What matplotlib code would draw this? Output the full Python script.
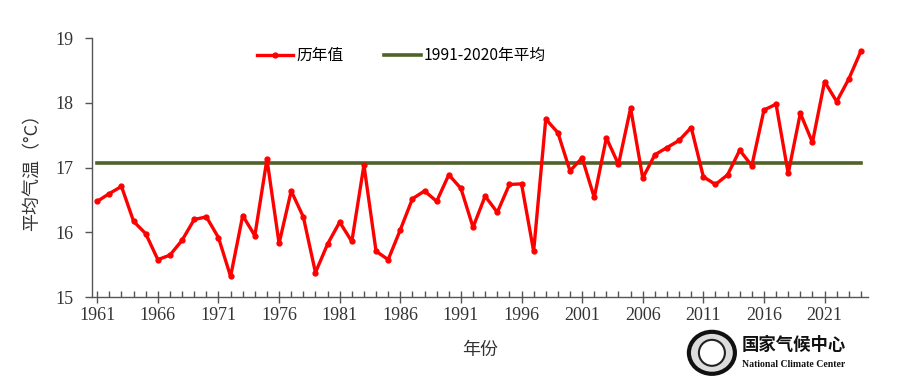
import matplotlib.pyplot as plt
import numpy as np
from matplotlib.patches import Ellipse

plt.rcParams['font.family'] = ['Noto Sans CJK SC', 'DejaVu Sans']

years = np.arange(1961, 2025)
temps = [16.48, 16.60, 16.71, 16.17, 15.98, 15.58, 15.65, 15.88, 16.20, 16.24,
         15.92, 15.32, 16.26, 15.95, 17.13, 15.83, 16.64, 16.24, 15.38, 15.82,
         16.16, 15.86, 17.04, 15.71, 15.58, 16.04, 16.52, 16.64, 16.48, 16.89,
         16.68, 16.08, 16.56, 16.31, 16.74, 16.75, 15.71, 17.75, 17.54, 16.95,
         17.15, 16.54, 17.46, 17.05, 17.92, 16.84, 17.20, 17.31, 17.42, 17.62,
         16.86, 16.74, 16.89, 17.27, 17.03, 17.89, 17.98, 16.91, 17.84, 17.39,
         18.33, 18.02, 18.37, 18.80]
normal = 17.07
xticks = np.arange(1961, 2025, 5)
yticks = [15, 16, 17, 18, 19]

fig = plt.figure(figsize=(9, 3.89), dpi=100)
ax = fig.add_axes([0.102, 0.236, 0.862, 0.666])

ax.plot(years, temps, color='#FF0000', lw=2.4, marker='o', ms=3.5, label='历年值', zorder=3)
ax.plot(years, [normal] * len(years), color='#4F6228', lw=2.6, label='1991-2020年平均', zorder=2)

ax.set_xlim(1960.55, 2024.55)
ax.set_ylim(15, 19)
ax.set_xticks(xticks)
ax.set_xticks(years, minor=True)
ax.set_yticks(yticks)

serif = 'Liberation Serif'
for lab in ax.get_xticklabels() + ax.get_yticklabels():
    lab.set_fontfamily(serif)
    lab.set_fontsize(13)
    lab.set_color('#333333')

ax.tick_params(axis='x', which='major', direction='inout', length=8, width=1, color='#555555', pad=3)
ax.tick_params(axis='x', which='minor', direction='in', length=4, width=1, color='#555555')
ax.tick_params(axis='y', which='major', direction='out', length=5, width=1, color='#555555', pad=8)

for s in ['top', 'right']:
    ax.spines[s].set_visible(False)
for s in ['left', 'bottom']:
    ax.spines[s].set_color('#555555')
    ax.spines[s].set_linewidth(1)

ax.set_ylabel('平均气温（°C）', fontsize=13, color='#333333', labelpad=10)
ax.set_xlabel('年份', fontsize=13, color='#333333', labelpad=12)

ax.legend(loc='upper left', bbox_to_anchor=(0.195, 1.02), ncol=2, frameon=False,
          fontsize=11.3, handlelength=2.3, columnspacing=2.6, handletextpad=0.2)

# logo
fig.patches.append(Ellipse((0.791, 0.093), 46 / 900, 42 / 389, transform=fig.transFigure,
                           facecolor='#dddddd', edgecolor='#111111', lw=3))
fig.patches.append(Ellipse((0.791, 0.093), 26 / 900, 26 / 389, transform=fig.transFigure,
                           facecolor='white', edgecolor='#222222', lw=1.5))
fig.text(0.824, 0.113, '国家气候中心', fontsize=12.5, fontweight='bold', color='#111111',
         family=['Noto Sans CJK SC', 'DejaVu Sans'], va='center')
fig.text(0.824, 0.062, 'National Climate Center', fontsize=7, color='#111111',
         family=serif, fontweight='bold', va='center')

fig.savefig('out.png', dpi=100, facecolor='white')
